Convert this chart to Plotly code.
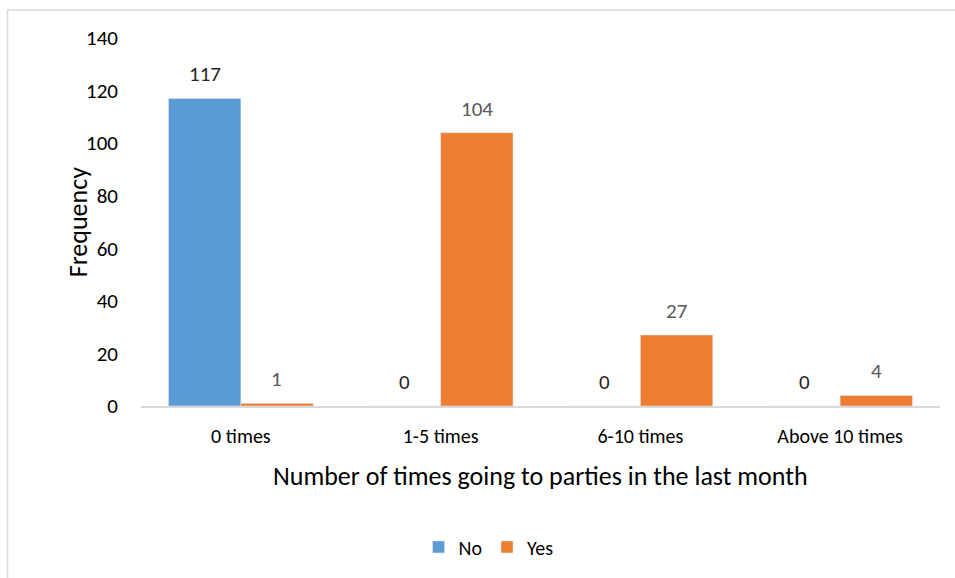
import plotly.graph_objects as go

categories = ["0 times", "1-5 times", "6-10 times", "Above 10 times"]
no_values = [117, 0, 0, 0]
yes_values = [1, 104, 27, 4]
y_ticks = [0, 20, 40, 60, 80, 100, 120, 140]

FONT = "Carlito, Lato, 'Open Sans', sans-serif"
BLUE = "#5B9BD5"
ORANGE = "#ED7D31"
TS = 20
NS = 21

fig = go.Figure()
fig.add_trace(go.Bar(name="No", x=categories, y=no_values, marker_color=BLUE))
fig.add_trace(go.Bar(name="Yes", x=categories, y=yes_values, marker_color=ORANGE))

annotations = []
for cat, v in zip(categories, no_values):
    annotations.append(dict(x=cat, y=v, xref="x", yref="y", text=str(v), showarrow=False,
                            xshift=-36, yshift=24, font=dict(family=FONT, size=NS, color="#262626")))
for cat, v in zip(categories, yes_values):
    annotations.append(dict(x=cat, y=v, xref="x", yref="y", text=str(v), showarrow=False,
                            xshift=36, yshift=24, font=dict(family=FONT, size=NS, color="#595959")))
annotations.append(dict(x=0.5, y=-0.19, xref="paper", yref="paper", yanchor="middle",
                        text="Number of times going to parties in the last month", showarrow=False,
                        font=dict(family=FONT, size=26, color="#000000")))
annotations.append(dict(x=-0.101, y=0.5, xref="paper", yref="paper", textangle=-90,
                        text="Frequency", showarrow=False,
                        font=dict(family=FONT, size=26, color="#000000")))

fig.update_layout(
    width=955, height=578,
    margin=dict(l=141, r=15, t=38, b=172),
    paper_bgcolor="white", plot_bgcolor="white",
    barmode="group", bargap=0.275, bargroupgap=0,
    font=dict(family=FONT, size=TS, color="#000000"),
    showlegend=True,
    legend=dict(orientation="h", x=0.435, xanchor="center", y=-0.383, yanchor="middle",
                font=dict(family=FONT, size=TS, color="#000000"), itemwidth=30),
    annotations=annotations,
    shapes=[dict(type="rect", xref="paper", yref="paper", x0=-0.167, x1=1.1, y0=-0.6, y1=1.076,
                 line=dict(color="#D9D9D9", width=1.5), layer="below")],
)
fig.update_xaxes(showline=True, linecolor="#D9D9D9", linewidth=1.5, showgrid=False,
                 ticks="", tickfont=dict(family=FONT, size=TS, color="#000000"),
                 ticklabelstandoff=11)
fig.update_yaxes(range=[0, 140], tickvals=y_ticks, showgrid=False, zeroline=False,
                 showline=False, ticks="", tickfont=dict(family=FONT, size=NS, color="#000000"),
                 ticklabelstandoff=22)

fig.write_html("out.html")
